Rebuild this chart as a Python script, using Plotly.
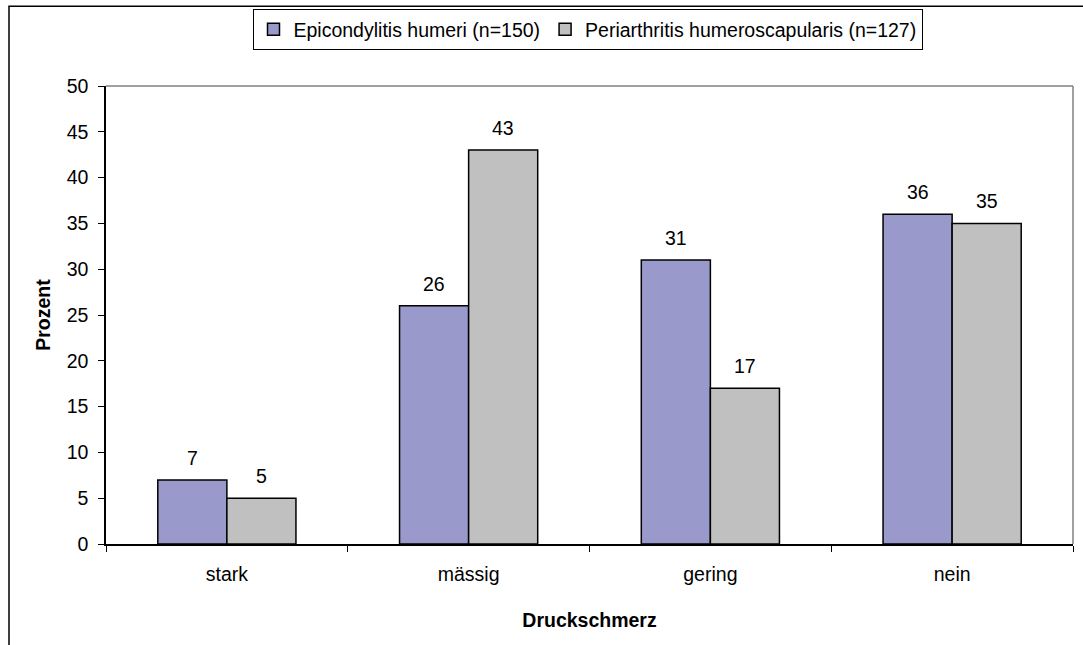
import plotly.graph_objects as go

categories = ["stark", "mässig", "gering", "nein"]
epicondylitis = [7, 26, 31, 36]
periarthritis = [5, 43, 17, 35]
series_names = ["Epicondylitis humeri (n=150)", "Periarthritis humeroscapularis (n=127)"]
y_ticks = [0, 5, 10, 15, 20, 25, 30, 35, 40, 45, 50]

W, H = 1083, 645
L, R, T, B = 106, 10, 85, 101
pw, ph = W - L - R, H - T - B

FONT = "Liberation Sans, Arial, sans-serif"
FS = 19.5

fig = go.Figure()
fig.add_trace(go.Bar(x=categories, y=epicondylitis, name=series_names[0],
                     marker=dict(color="#9999CC", line=dict(color="black", width=1.5))))
fig.add_trace(go.Bar(x=categories, y=periarthritis, name=series_names[1],
                     marker=dict(color="#C0C0C0", line=dict(color="black", width=1.5))))

bar_px = pw / 4 / 3.5
for vals, sh in ((epicondylitis, -bar_px / 2), (periarthritis, bar_px / 2)):
    for c, v in zip(categories, vals):
        fig.add_annotation(x=c, y=v, text=str(v), showarrow=False, xshift=sh,
                           yshift=22, font=dict(size=FS, color="black", family=FONT))

def px_x(p):
    return (p - L) / pw

def px_y(p):
    return (H - B - p) / ph

# outer chart border
fig.add_shape(type="rect", xref="paper", yref="paper",
              x0=px_x(9), x1=px_x(1095), y0=px_y(5), y1=px_y(660),
              line=dict(color="black", width=1.5), layer="below")
# plot area top/right border
fig.add_shape(type="line", xref="paper", yref="paper", x0=0, x1=1, y0=1, y1=1,
              line=dict(color="#808080", width=1.5))
fig.add_shape(type="line", xref="paper", yref="paper", x0=1, x1=1, y0=0, y1=1,
              line=dict(color="#808080", width=1.5))

fig.update_layout(
    width=W, height=H,
    margin=dict(l=L, r=R, t=T, b=B),
    paper_bgcolor="white", plot_bgcolor="white",
    font=dict(family=FONT, size=FS, color="black"),
    barmode="group", bargap=1.5 / 3.5, bargroupgap=0,
    legend=dict(orientation="h", x=px_x(587.5), xanchor="center", y=px_y(9), yanchor="top",
                bordercolor="black", borderwidth=1, bgcolor="white",
                font=dict(size=FS), itemwidth=30, tracegroupgap=0),
    xaxis=dict(showline=True, linecolor="black", linewidth=1.5, ticks="outside",
               tickson="boundaries", ticklen=6, tickcolor="black", showgrid=False,
               ticklabelstandoff=12,
               title=dict(text="<b>Druckschmerz</b>", standoff=29, font=dict(size=FS))),
    yaxis=dict(range=[0, 50], tickvals=y_ticks, showline=True, linecolor="black",
               linewidth=1.5, ticks="outside", ticklen=6, tickcolor="black", showgrid=False,
               zeroline=False, ticklabelstandoff=6,
               title=dict(text="<b>Prozent</b>", standoff=11, font=dict(size=FS))),
)

fig.write_html("out.html", config={"displayModeBar": False},
               post_script="document.body.style.margin='0';")
